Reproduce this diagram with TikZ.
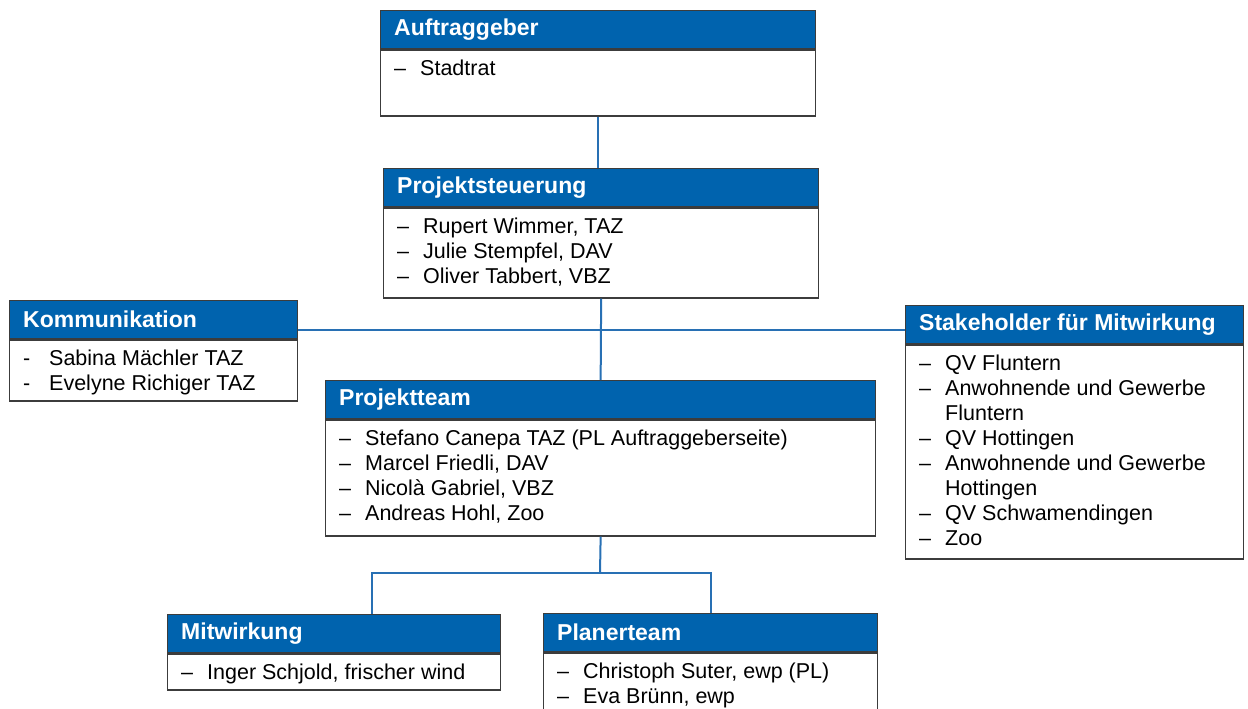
\documentclass[tikz,border=0pt]{standalone}
\usepackage{fontspec}
\setmainfont{Liberation Sans}
\usepackage{tikz}
\definecolor{hdrblue}{RGB}{0, 99, 174}
\definecolor{linkblue}{RGB}{40, 112, 180}
\definecolor{boxline}{RGB}{60, 60, 60}
\usetikzlibrary{positioning}
\def\hdrheight{38}
\tikzset{
  hdr/.style={draw=boxline,fill=hdrblue,line width=1.3pt,rectangle,minimum height=\hdrheight,inner sep=0pt},
  hdrtext/.style={anchor=west,xshift=14pt,text=white,inner sep=0pt,font=\fontsize{23}{27}\selectfont\bfseries},
  bodybox/.style={draw=boxline,fill=white,line width=1.3pt,rectangle,inner sep=0pt},
  bodytext/.style={anchor=north west,inner xsep=14pt,inner ysep=8pt,align=left,font=\fontsize{21.5}{25}\selectfont},
  link/.style={draw=linkblue,line width=2pt}
}
\newcommand{\entries}[1]{\begin{tabular}{@{}p{26pt}@{}l@{}}#1\end{tabular}}
\newcommand{\orgbox}[7]{\node[hdr,minimum width=#4,anchor=north west] (#3) at (#1,#2) {};
	\node[hdrtext] (#3 title) at (#3.west) {#6};
	\node[bodybox,minimum width=#4,minimum height=#5,anchor=north west] (#3 b) at (#3.south west) {};
	\node[bodytext] (#3 text) at (#3 b.north west) {#7}; }

\begin{document}
\begin{tikzpicture}[x=1pt,y=-1pt]
\useasboundingbox (0,0) rectangle (1248,709);
\clip (0,0) rectangle (1248,709);

\orgbox{380}{10}{auf}{435}{66}{Auftraggeber}{\entries{– & Stadtrat}}
\orgbox{383}{168}{steu}{435}{90}{Projektsteuerung}{\entries{– & Rupert Wimmer, TAZ\\ – & Julie Stempfel, DAV\\ – & Oliver Tabbert, VBZ}}
\orgbox{9}{300}{komm}{288}{61}{Kommunikation}{\entries{- & Sabina Mächler TAZ\\ - & Evelyne Richiger TAZ}}
\orgbox{905}{305}{stake}{338}{214}{Stakeholder für Mitwirkung}{\entries{– & QV Fluntern\\ – & Anwohnende und Gewerbe\\ & Fluntern\\ – & QV Hottingen\\ – & Anwohnende und Gewerbe\\ & Hottingen\\ – & QV Schwamendingen\\ – & Zoo}}
\orgbox{325}{380}{team}{550}{116}{Projektteam}{\entries{– & Stefano Canepa TAZ (PL Auftraggeberseite)\\ – & Marcel Friedli, DAV\\ – & Nicolà Gabriel, VBZ\\ – & Andreas Hohl, Zoo}}
\orgbox{167}{614}{mitw}{333}{36}{Mitwirkung}{\entries{– & Inger Schjold, frischer wind}}
\orgbox{543}{613}{plan}{334}{110}{Planerteam}{\entries{– & Christoph Suter, ewp (PL)\\ – & Eva Brünn, ewp}}

% junctions
\coordinate (side) at (600,330);
\coordinate (fork) at (600,573);
\coordinate (mfork) at (372,573);

\draw[link] (auf b.south) -- (auf b.south |- steu.north);
\draw[link] (steu b.south) -- (team.north);
\draw[link] (komm.east |- side) -- (stake.west |- side);
\draw[link] (team b.south) -- (fork);
\draw[link] (mfork |- mitw.north) -- (mfork) -- (plan.north |- fork) -- (plan.north);
\end{tikzpicture}
\end{document}
